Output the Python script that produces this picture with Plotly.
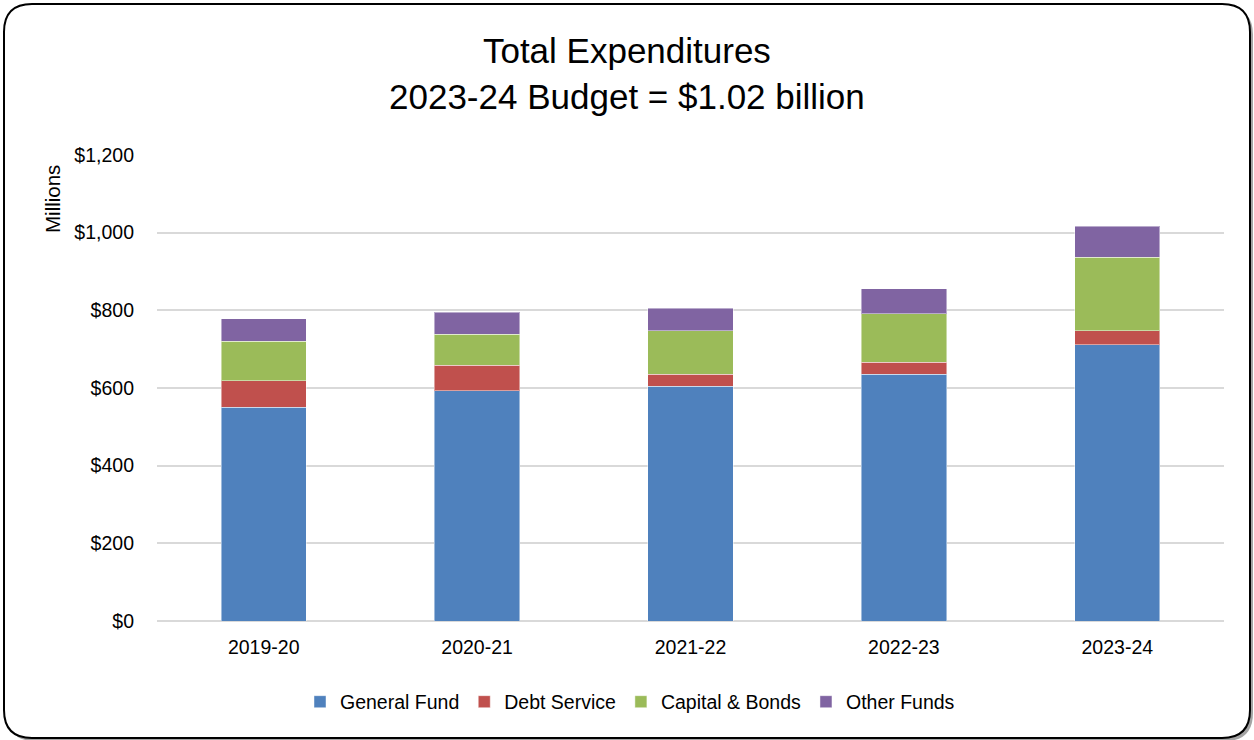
import plotly.graph_objects as go

years = ["2019-20", "2020-21", "2021-22", "2022-23", "2023-24"]
general_fund = [551, 593, 605, 636, 712]
debt_service = [68, 65, 30, 30, 35]
capital_bonds = [101, 81, 113, 125, 190]
other_funds = [58, 56, 58, 65, 80]

series_names = ["General Fund", "Debt Service", "Capital & Bonds", "Other Funds"]
series_colors = ["#4F81BD", "#C0504D", "#9BBB59", "#8064A2"]
series_values = [general_fund, debt_service, capital_bonds, other_funds]

y_ticks = [0, 200, 400, 600, 800, 1000, 1200]

FONT = "Liberation Sans Narrow, Arial Narrow, Liberation Sans, Arial, sans-serif"

W, H = 1254, 740
ML, MR, MT, MB = 157, 30, 155, 119
PW, PH = W - ML - MR, H - MT - MB


def px(x, y):
    return (x - ML) / PW, (H - MB - y) / PH


def rounded_path(x0, y0, x1, y1, r):
    def P(x, y):
        a, b = px(x, y)
        return f"{a:.5f},{b:.5f}"
    d = "M" + P(x0 + r, y0)
    d += " L" + P(x1 - r, y0)
    d += " Q" + P(x1, y0) + " " + P(x1, y0 + r)
    d += " L" + P(x1, y1 - r)
    d += " Q" + P(x1, y1) + " " + P(x1 - r, y1)
    d += " L" + P(x0 + r, y1)
    d += " Q" + P(x0, y1) + " " + P(x0, y1 - r)
    d += " L" + P(x0, y0 + r)
    d += " Q" + P(x0, y0) + " " + P(x0 + r, y0)
    d += " Z"
    return d


fig = go.Figure()
for name, color, vals in zip(series_names, series_colors, series_values):
    fig.add_trace(go.Bar(
        x=years, y=vals, name=name,
        marker=dict(color=color, line=dict(color="rgba(255,255,255,0.45)", width=1)),
    ))

fig.update_layout(
    width=W, height=H,
    barmode="stack", bargap=0.6,
    margin=dict(l=ML, r=MR, t=MT, b=MB),
    paper_bgcolor="white", plot_bgcolor="rgba(0,0,0,0)",
    font=dict(family=FONT, size=19.5, color="black"),
    showlegend=True,
    legend=dict(
        orientation="h", x=px(630, 0)[0], xanchor="center", xref="paper",
        y=px(0, 702)[1], yanchor="middle",
        font=dict(family=FONT, size=19.5, color="black"),
        traceorder="normal", itemclick=False,
    ),
    xaxis=dict(
        showgrid=False, showline=False, zeroline=False,
        tickfont=dict(family=FONT, size=19.5, color="black"),
        ticks="", ticklabelstandoff=12,
    ),
    yaxis=dict(
        range=[0, 1200], tickvals=y_ticks,
        ticktext=["$" + format(v, ",") for v in y_ticks],
        showgrid=True, gridcolor="#D9D9D9", gridwidth=1.5,
        zeroline=True, zerolinecolor="#D9D9D9", zerolinewidth=1.5,
        showline=False, ticks="", ticklabelstandoff=22,
        tickfont=dict(family=FONT, size=19.5, color="black"),
    ),
    annotations=[
        dict(
            text="Total Expenditures<br>2023-24 Budget = $1.02 billion",
            x=px(627, 0)[0], y=px(0, 74)[1], xref="paper", yref="paper",
            xanchor="center", yanchor="middle", showarrow=False,
            font=dict(family=FONT, size=35, color="black"),
        ),
        dict(
            text="Millions", textangle=-90,
            x=px(52, 0)[0], y=px(0, 199)[1], xref="paper", yref="paper",
            xanchor="center", yanchor="middle", showarrow=False,
            font=dict(family=FONT, size=20.5, color="black"),
        ),
    ],
    shapes=[
        dict(type="path", xref="paper", yref="paper", layer="below",
             path=rounded_path(7, 7, 1253, 741, 28),
             fillcolor="rgba(90,90,90,0.55)", line=dict(width=0)),
        dict(type="path", xref="paper", yref="paper", layer="below",
             path=rounded_path(4, 4, 1250, 738, 28),
             fillcolor="white", line=dict(color="black", width=2)),
    ],
)

fig.write_html("out.html", config={"displayModeBar": False},
               post_script="document.body.style.margin='0px';")
